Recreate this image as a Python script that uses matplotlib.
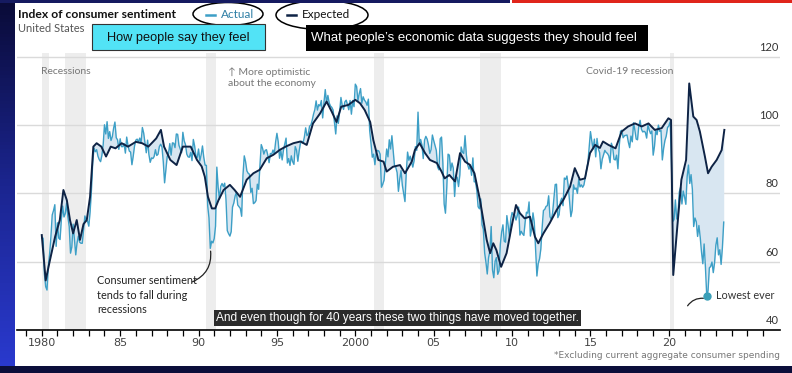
import numpy as np
import matplotlib
matplotlib.use('Agg')
import matplotlib.pyplot as plt
from matplotlib.patches import Rectangle, Ellipse
from matplotlib.colors import LinearSegmentedColormap

W, H = 792, 373

# --- data ---------------------------------------------------------------
# University of Michigan consumer sentiment, monthly from Jan 1980
actual = [
    67.0, 66.9, 56.5, 52.7, 51.7, 58.7, 62.3, 67.3, 73.7, 75.0, 76.7, 64.5,
    71.4, 66.9, 66.5, 72.4, 76.3, 73.1, 74.1, 77.2, 73.1, 70.3, 62.5, 64.3,
    71.0, 66.5, 62.0, 65.5, 67.5, 65.7, 65.4, 65.4, 69.3, 73.4, 72.1, 71.9,
    70.4, 74.6, 80.8, 89.1, 93.3, 92.2, 92.8, 90.9, 89.9, 89.3, 91.1, 94.2,
    100.1, 97.4, 101.0, 96.1, 98.1, 95.5, 96.6, 99.1, 100.9, 96.3, 95.7, 92.9,
    96.0, 93.7, 93.7, 94.6, 91.8, 96.5, 94.0, 92.4, 92.1, 88.4, 90.9, 93.9,
    95.6, 95.9, 95.1, 96.2, 94.8, 99.3, 97.7, 94.9, 91.9, 95.6, 91.4, 89.1,
    90.4, 90.2, 90.8, 92.8, 91.1, 91.5, 93.7, 94.4, 93.6, 89.3, 83.1, 86.8,
    90.8, 91.6, 94.6, 91.2, 94.8, 94.7, 93.4, 97.4, 97.3, 94.1, 93.0, 91.9,
    97.9, 95.4, 94.3, 91.5, 90.7, 90.6, 92.0, 89.6, 95.8, 93.9, 90.9, 90.5,
    93.0, 89.5, 91.3, 93.9, 90.6, 88.3, 88.2, 76.4, 72.8, 63.9, 66.0, 65.5,
    66.8, 70.4, 87.7, 81.8, 78.3, 82.1, 82.9, 82.0, 83.0, 78.3, 69.1, 68.2,
    67.5, 68.8, 76.0, 77.2, 79.2, 80.4, 76.6, 76.1, 75.6, 73.3, 85.3, 91.0,
    89.3, 86.6, 85.9, 85.6, 80.3, 81.5, 77.0, 77.3, 77.9, 82.7, 81.2, 88.2,
    94.3, 93.2, 91.5, 92.6, 92.8, 91.2, 89.0, 91.7, 91.5, 92.7, 91.6, 95.1,
    97.6, 95.1, 90.3, 92.5, 89.8, 92.7, 94.4, 96.2, 88.9, 90.2, 88.2, 91.0,
    89.3, 88.5, 93.7, 92.7, 89.4, 92.4, 94.7, 95.3, 94.7, 96.5, 99.2, 96.9,
    97.4, 99.7, 100.0, 101.4, 103.2, 104.5, 107.1, 104.4, 106.0, 105.6, 107.2, 102.1,
    106.6, 110.4, 106.5, 108.7, 106.5, 105.6, 105.2, 104.4, 100.9, 97.4, 102.7, 100.5,
    103.9, 108.1, 105.7, 104.6, 106.8, 107.3, 106.0, 104.5, 107.2, 103.2, 107.2, 105.4,
    112.0, 111.3, 107.1, 109.2, 110.7, 106.4, 108.3, 107.3, 106.8, 105.8, 107.6, 98.4,
    94.7, 90.6, 91.5, 88.4, 92.0, 92.6, 92.4, 91.5, 81.8, 82.7, 83.9, 88.8,
    93.0, 90.7, 95.7, 93.0, 96.9, 92.4, 88.1, 87.6, 86.1, 80.6, 84.2, 86.7,
    82.4, 79.9, 77.6, 86.0, 92.1, 89.7, 90.9, 89.3, 87.7, 89.6, 93.7, 92.6,
    103.8, 94.4, 95.8, 94.2, 90.2, 95.6, 96.7, 95.9, 94.2, 91.7, 92.8, 97.1,
    95.5, 94.1, 92.6, 87.7, 86.9, 96.0, 96.5, 89.1, 76.9, 74.2, 81.6, 91.5,
    91.2, 86.7, 88.9, 87.4, 79.1, 84.9, 84.7, 82.0, 85.4, 93.6, 92.1, 91.7,
    96.9, 91.3, 88.4, 87.1, 88.3, 85.3, 90.4, 83.4, 83.4, 80.9, 76.1, 75.5,
    78.4, 70.8, 69.5, 62.6, 59.8, 56.4, 61.2, 63.0, 70.3, 57.6, 55.3, 60.1,
    61.2, 56.3, 57.3, 65.1, 68.7, 70.8, 66.0, 65.7, 73.5, 70.6, 67.4, 72.5,
    74.4, 73.6, 73.6, 72.2, 73.6, 76.0, 67.8, 68.9, 68.2, 67.7, 71.6, 74.5,
    74.2, 77.5, 67.5, 69.8, 74.3, 71.5, 63.7, 55.8, 59.5, 60.8, 63.7, 69.9,
    75.0, 75.3, 76.2, 76.4, 79.3, 73.2, 72.3, 74.3, 78.3, 82.6, 82.7, 72.9,
    73.8, 77.6, 78.6, 76.4, 84.5, 84.1, 85.1, 82.1, 77.5, 73.2, 75.1, 82.5,
    81.2, 81.6, 80.0, 84.1, 81.9, 82.5, 81.8, 82.5, 84.6, 86.9, 88.8, 93.6,
    98.1, 95.4, 93.0, 95.9, 90.7, 96.1, 93.1, 91.9, 87.2, 90.0, 91.3, 92.6,
    92.0, 91.7, 91.0, 89.0, 94.7, 93.5, 90.0, 89.8, 91.2, 87.2, 93.8, 98.2,
    98.5, 96.3, 96.9, 97.0, 97.1, 95.0, 93.4, 96.8, 95.1, 100.7, 98.5, 95.9,
    95.7, 99.7, 101.4, 98.8, 98.0, 98.2, 97.9, 96.2, 100.1, 98.6, 97.5, 98.3,
    91.2, 93.8, 98.4, 97.2, 100.0, 98.2, 98.4, 89.8, 93.2, 95.5, 96.8, 99.3,
    99.8, 101.0, 89.1, 71.8, 72.3, 78.1, 72.5, 74.1, 80.4, 81.8, 76.9, 80.7,
    79.0, 76.8, 84.9, 88.3, 82.9, 85.5, 81.2, 70.3, 72.8, 71.7, 67.4, 70.6,
    67.2, 62.8, 59.4, 65.2, 58.4, 50.0, 51.5, 58.2, 58.6, 59.9, 56.8, 59.7,
    64.9, 67.0, 62.0, 63.5, 59.2, 64.2, 71.6,
]
actual_year = 1980 + np.arange(len(actual)) / 12

# model ("expected") sentiment
exp_year = [
    1980.0, 1980.25, 1980.5, 1980.85, 1981.15, 1981.38, 1981.6, 1981.8, 1982.0,
    1982.23, 1982.44, 1982.66, 1982.87, 1983.08, 1983.29, 1983.5, 1983.8, 1984.1,
    1984.4, 1984.7, 1985.1, 1985.5, 1986.0, 1986.4, 1986.8, 1987.3, 1987.6, 1987.8,
    1988.2, 1988.6, 1989.0, 1989.5, 1989.9, 1990.2, 1990.4, 1990.6, 1990.85, 1991.06,
    1991.27, 1991.6, 1992.0, 1992.3, 1992.65, 1993.07, 1993.5, 1993.9, 1994.35,
    1994.77, 1995.2, 1995.6, 1996.05, 1996.5, 1996.9, 1997.3, 1997.75, 1998.17,
    1998.5, 1998.8, 1999.1, 1999.55, 2000.0, 2000.3, 2000.6, 2000.95, 2001.15,
    2001.47, 2001.8, 2002.0, 2002.4, 2002.85, 2003.17, 2003.6, 2003.8, 2004.1,
    2004.45, 2004.76, 2005.2, 2005.5, 2005.7, 2006.0, 2006.36, 2006.68, 2007.0,
    2007.3, 2007.6, 2007.95, 2008.17, 2008.38, 2008.6, 2008.8, 2009.0, 2009.3,
    2009.65, 2009.97, 2010.25, 2010.5, 2010.8, 2011.14, 2011.46, 2011.67, 2012.0,
    2012.4, 2012.85, 2013.27, 2013.7, 2014.0, 2014.33, 2014.65, 2014.97, 2015.3,
    2015.6, 2015.8, 2016.15, 2016.6, 2016.99, 2017.4, 2017.84, 2018.27, 2018.7,
    2019.1, 2019.54, 2019.97, 2020.14, 2020.28, 2020.54, 2020.8, 2021.1, 2021.3,
    2021.56, 2021.77, 2021.98, 2022.3, 2022.5, 2022.73, 2023.05, 2023.37, 2023.54,
]
exp_value = [
    67.8, 54.5, 60.0, 67.3, 72.2, 81.0, 78.0, 72.2, 68.3,
    72.2, 66.4, 71.0, 72.2, 79.0, 93.7, 94.7, 93.7, 90.8,
    93.7, 93.2, 94.7, 93.7, 95.1, 94.7, 93.7, 96.1, 98.6, 93.7,
    89.8, 88.3, 93.7, 93.7, 89.8, 87.9, 84.9, 79.0, 75.6, 75.6,
    78.0, 81.0, 82.5, 81.0, 79.0, 84.0, 85.9, 86.9, 90.3,
    91.3, 92.8, 93.8, 94.7, 95.2, 94.2, 100.5, 103.4, 106.9,
    103.9, 100.9, 105.4, 105.9, 107.4, 106.4, 104.4, 100.9, 95.6,
    89.8, 89.3, 86.4, 87.8, 88.3, 85.9, 89.3, 92.7, 94.7,
    91.8, 89.8, 88.9, 86.4, 84.4, 85.4, 83.5, 91.8, 89.3,
    88.4, 85.9, 78.1, 72.2, 66.4, 62.5, 65.4, 63.4, 58.5,
    62.5, 70.3, 76.6, 74.2, 72.7, 73.2, 67.3, 65.4, 68.3,
    71.3, 75.2, 78.1, 82.0, 87.4, 84.0, 84.4, 91.8, 94.2,
    93.3, 95.2, 94.2, 93.2, 98.1, 99.6, 100.5, 99.6, 100.5,
    98.6, 99.1, 102.0, 101.5, 56.1, 70.3, 84.0, 89.8, 112.2,
    102.5, 101.5, 98.1, 90.8, 85.9, 87.8, 89.8, 92.7, 98.6,
]

recessions = [(1980.0, 1980.45), (1981.5, 1982.8), (1990.5, 1991.1),
              (2001.2, 2001.85), (2007.95, 2009.3), (2020.1, 2020.3)]

y_ticks = [40, 60, 80, 100, 120]
x_major = [1980, 1985, 1990, 1995, 2000, 2005, 2010, 2015, 2020]
x_labels = ['1980', '85', '90', '95', '2000', '05', '10', '15', '20']

c_actual = '#3d9fc6'
c_expected = '#0e2345'
c_fill = '#d8e6f1'
chart_font = ['Lato', 'DejaVu Sans']
video_font = ['Liberation Sans', 'DejaVu Sans']

fig = plt.figure(figsize=(W / 100, H / 100), dpi=100)
fig.patch.set_facecolor('white')

# --- chart ---------------------------------------------------------------
ax = fig.add_axes([17 / W, 43 / H, 763 / W, 276.6 / H])
ax.set_xlim(1978.42, 2027.09)
ax.set_ylim(40, 121)
ax.set_facecolor('none')

for a, b in recessions:
    ax.axvspan(a, b, color='#ededed', lw=0, zorder=0)
for v in y_ticks[1:]:
    ax.axhline(v, color='#dadada', lw=1.0, zorder=1)
    ax.text(2027.0, v + 1.2, str(v), ha='right', va='bottom', fontsize=8,
            color='#333333', family=chart_font)
ax.text(2027.0, 41.2, '40', ha='right', va='bottom', fontsize=8,
        color='#333333', family=chart_font)

exp_on_months = np.interp(actual_year, exp_year, exp_value)
ax.fill_between(actual_year, actual, exp_on_months, color=c_fill, lw=0, zorder=2)
ax.plot(actual_year, actual, color=c_actual, lw=1.0, zorder=3)
ax.plot(exp_year, exp_value, color=c_expected, lw=1.4, zorder=4)

for s in ['top', 'right', 'left']:
    ax.spines[s].set_visible(False)
ax.spines['bottom'].set_linewidth(1.2)
ax.set_yticks([])
ax.set_xticks(x_major)
ax.set_xticklabels(x_labels, family=['Liberation Sans Narrow', 'DejaVu Sans'],
                   fontsize=8, color='#444444')
ax.set_xticks(np.arange(1979, 2027), minor=True)
ax.tick_params(axis='x', which='both', direction='out', length=4, width=0.9, pad=2)

ax.text(1979.93, 116.9, 'Recessions', va='top', fontsize=7.5, color='#777777',
        family=chart_font)
ax.text(1991.9, 116.9, '\u2191 More optimistic\nabout the economy', va='top', fontsize=7.5,
        color='#777777', family=chart_font, linespacing=1.2)
ax.text(2020.3, 116.9, 'Covid-19 recession', va='top', fontsize=7.5, color='#777777',
        ha='right', family=chart_font)

ax.text(1983.55, 56.0, 'Consumer sentiment\ntends to fall during\nrecessions', va='top',
        fontsize=7.8, color='#222222', family=chart_font, linespacing=1.35)
ax.annotate('', xy=(1990.75, 63.9), xytext=(1989.45, 53.8),
            arrowprops=dict(arrowstyle='-', color='#222222', lw=0.9,
                            connectionstyle='arc3,rad=0.4'))

ax.plot([2022.42], [50.0], 'o', color='#3a9fb8', ms=5, zorder=6)
ax.text(2023.0, 50.0, 'Lowest ever', va='center', fontsize=7.8, color='#333333',
        family=chart_font)
ax.annotate('', xy=(2022.38, 49.2), xytext=(2021.1, 46.4),
            arrowprops=dict(arrowstyle='-', color='#222222', lw=0.9,
                            connectionstyle='arc3,rad=-0.35'))

# --- headings and legend ---------------------------------------------------
def fx(x):
    return x / W

def fy(y):
    return 1 - y / H

fig.text(fx(18), fy(15), 'Index of consumer sentiment', fontsize=8.7, weight='bold',
         va='center', color='#111111', family=chart_font)
fig.text(fx(18), fy(29), 'United States', fontsize=8, va='center', color='#555555',
         family=chart_font)

fig.add_artist(plt.Line2D([fx(206), fx(215)], [fy(15), fy(15)], color=c_actual, lw=1.8))
fig.text(fx(221), fy(15), 'Actual', fontsize=8.5, va='center', color='#2e7ea5',
         family=chart_font)
fig.add_artist(plt.Line2D([fx(287), fx(296)], [fy(15), fy(15)], color=c_expected, lw=1.8))
fig.text(fx(302), fy(15), 'Expected', fontsize=8.5, va='center', color='#111111',
         family=chart_font)
fig.add_artist(Ellipse((fx(228), fy(14)), 70 / W, 23 / H, transform=fig.transFigure,
                       fill=False, ec='black', lw=1.1))
fig.add_artist(Ellipse((fx(322), fy(15)), 92 / W, 29 / H, transform=fig.transFigure,
                       fill=False, ec='black', lw=1.1))

# video overlays
fig.add_artist(Rectangle((fx(92), fy(50)), 173 / W, 26 / H, transform=fig.transFigure,
                         fc='#52e3f6', ec='#333333', lw=0.8, zorder=5))
fig.text(fx(178.5), fy(37.5), 'How people say they feel', ha='center', va='center',
         fontsize=9.2, color='#111111', family=video_font, zorder=6)
fig.add_artist(Rectangle((fx(306), fy(51)), 342 / W, 26 / H, transform=fig.transFigure,
                         fc='black', ec='none', zorder=5))
fig.text(fx(474), fy(38), 'What people\u2019s economic data suggests they should feel',
         ha='center', va='center', fontsize=9.5, color='white', family=video_font,
         zorder=6)
fig.text(fx(397.5), fy(318), 'And even though for 40 years these two things have moved together.',
         ha='center', va='center', fontsize=8.6, color='white', family=video_font,
         zorder=10, bbox=dict(boxstyle='square,pad=0.15', fc='#2b2b2b', ec='none'))

fig.text(fx(780), fy(355), '*Excluding current aggregate consumer spending', ha='right',
         va='center', fontsize=6.5, color='#777777',
         family=['Liberation Sans Narrow', 'DejaVu Sans'])

# frame of the video
grad = LinearSegmentedColormap.from_list('edge', ['#0a0b38', '#1b2590', '#2a3ad0'])
bx = fig.add_axes([0, 0, 15 / W, 1])
bx.imshow(np.linspace(0, 1, 100).reshape(-1, 1), aspect='auto', cmap=grad)
bx.axis('off')
fig.add_artist(Rectangle((0, 0), 1, 7 / H, transform=fig.transFigure, fc='#0b0e3a',
                         ec='none', zorder=8))
fig.add_artist(Rectangle((0, fy(3)), 510 / W, 3 / H, transform=fig.transFigure,
                         fc='#151a60', ec='none', zorder=8))
fig.add_artist(Rectangle((fx(512), fy(3)), 280 / W, 3 / H, transform=fig.transFigure,
                         fc='#e0251b', ec='none', zorder=8))

fig.savefig('out.png', dpi=100)
